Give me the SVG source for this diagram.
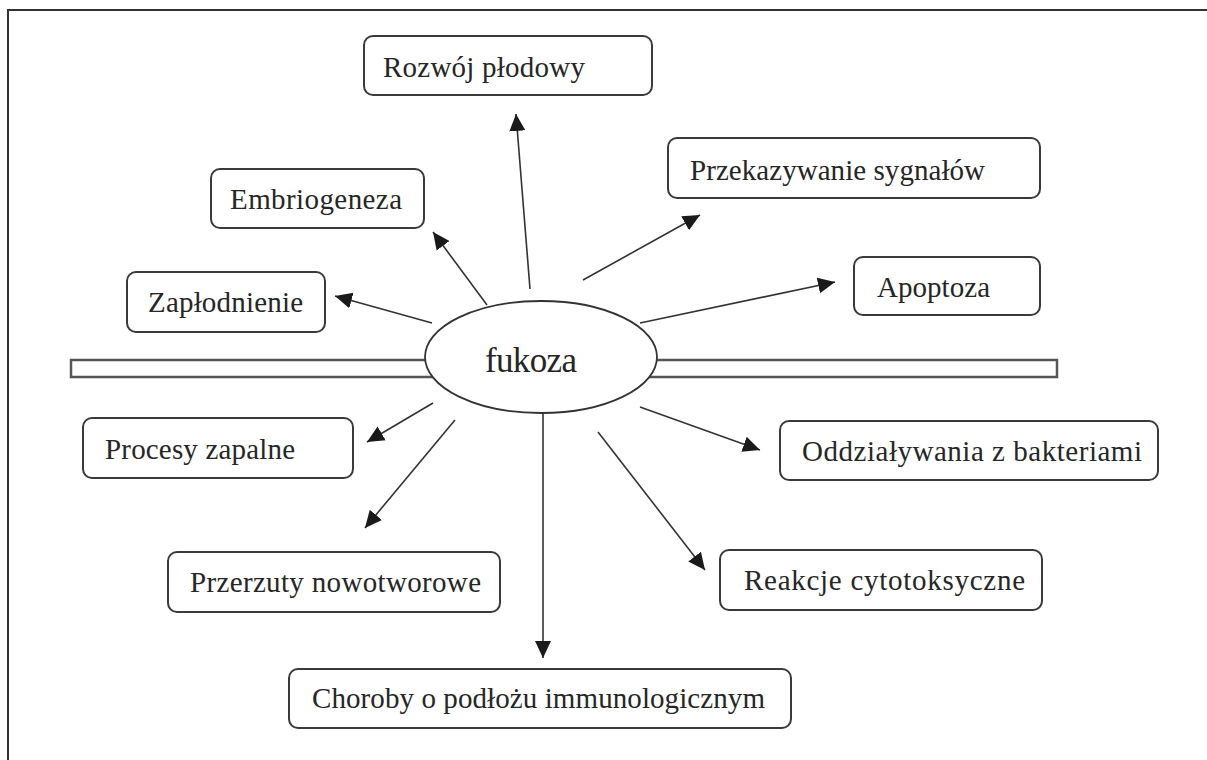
<svg xmlns="http://www.w3.org/2000/svg" width="1207" height="760" viewBox="0 0 1207 760">
<defs>
<marker id="ah" markerUnits="userSpaceOnUse" markerWidth="20" markerHeight="18" refX="17" refY="9" orient="auto">
<path d="M0,1 L17,9 L0,17 z" fill="#1a1a1a"/>
</marker>
<style>
.box{fill:#fff;stroke:#3a3a3a;stroke-width:2}
.t{font-family:"Liberation Serif","Times New Roman",serif;font-size:29px;fill:#262626}
.big{font-size:35px}
.c{stroke:#333;stroke-width:1.6;fill:none;marker-end:url(#ah)}
</style>
</defs>
<rect width="1207" height="760" fill="#fff"/>
<g id="frame" stroke="#333" stroke-width="2" fill="none">
<path d="M8,760 V10 H1207"/>
</g>
<g id="bar"><rect x="71" y="360" width="986" height="17" fill="#fff" stroke="#555" stroke-width="2.5"/></g>
<g id="connectors">
<line class="c" x1="530" y1="289" x2="516" y2="114"/>
<line class="c" x1="487" y1="305" x2="433" y2="232"/>
<line class="c" x1="432" y1="323" x2="335" y2="296"/>
<line class="c" x1="583" y1="280" x2="700" y2="215"/>
<line class="c" x1="640" y1="323" x2="835" y2="282"/>
<line class="c" x1="433" y1="403" x2="367" y2="442"/>
<line class="c" x1="455" y1="420" x2="365" y2="528"/>
<line class="c" x1="543" y1="406" x2="543" y2="658"/>
<line class="c" x1="640" y1="407" x2="760" y2="450"/>
<line class="c" x1="598" y1="432" x2="705" y2="570"/>
</g>
<g id="fukoza">
<ellipse cx="541" cy="357" rx="116" ry="56" fill="#fff" stroke="#333" stroke-width="1.8"/>
<text class="t big" x="485" y="372" textLength="92">fukoza</text>
</g>
<g id="rozwoj"><rect class="box" x="364" y="36" width="288" height="59" rx="9"/><text class="t" x="383" y="77" textLength="202">Rozwój płodowy</text></g>
<g id="embriogeneza"><rect class="box" x="211" y="169" width="213" height="59" rx="9"/><text class="t" x="230" y="209" textLength="172">Embriogeneza</text></g>
<g id="zaplodnienie"><rect class="box" x="127" y="272" width="198" height="60" rx="9"/><text class="t" x="148" y="312" textLength="155">Zapłodnienie</text></g>
<g id="przekazywanie"><rect class="box" x="668" y="138" width="372" height="60" rx="9"/><text class="t" x="690" y="180" textLength="295">Przekazywanie sygnałów</text></g>
<g id="apoptoza"><rect class="box" x="854" y="257" width="186" height="58" rx="9"/><text class="t" x="877" y="297" textLength="113">Apoptoza</text></g>
<g id="procesy"><rect class="box" x="83" y="418" width="270" height="60" rx="9"/><text class="t" x="105" y="459" textLength="190">Procesy zapalne</text></g>
<g id="przerzuty"><rect class="box" x="168" y="552" width="332" height="60" rx="9"/><text class="t" x="190" y="592" textLength="291">Przerzuty nowotworowe</text></g>
<g id="oddzialywania"><rect class="box" x="780" y="421" width="378" height="59" rx="9"/><text class="t" x="802" y="461" textLength="340">Oddziaływania z bakteriami</text></g>
<g id="reakcje"><rect class="box" x="720" y="550" width="322" height="60" rx="9"/><text class="t" x="744" y="590" textLength="281">Reakcje cytotoksyczne</text></g>
<g id="choroby"><rect class="box" x="289" y="669" width="502" height="59" rx="9"/><text class="t" x="312" y="708" textLength="453">Choroby o podłożu immunologicznym</text></g>
</svg>
